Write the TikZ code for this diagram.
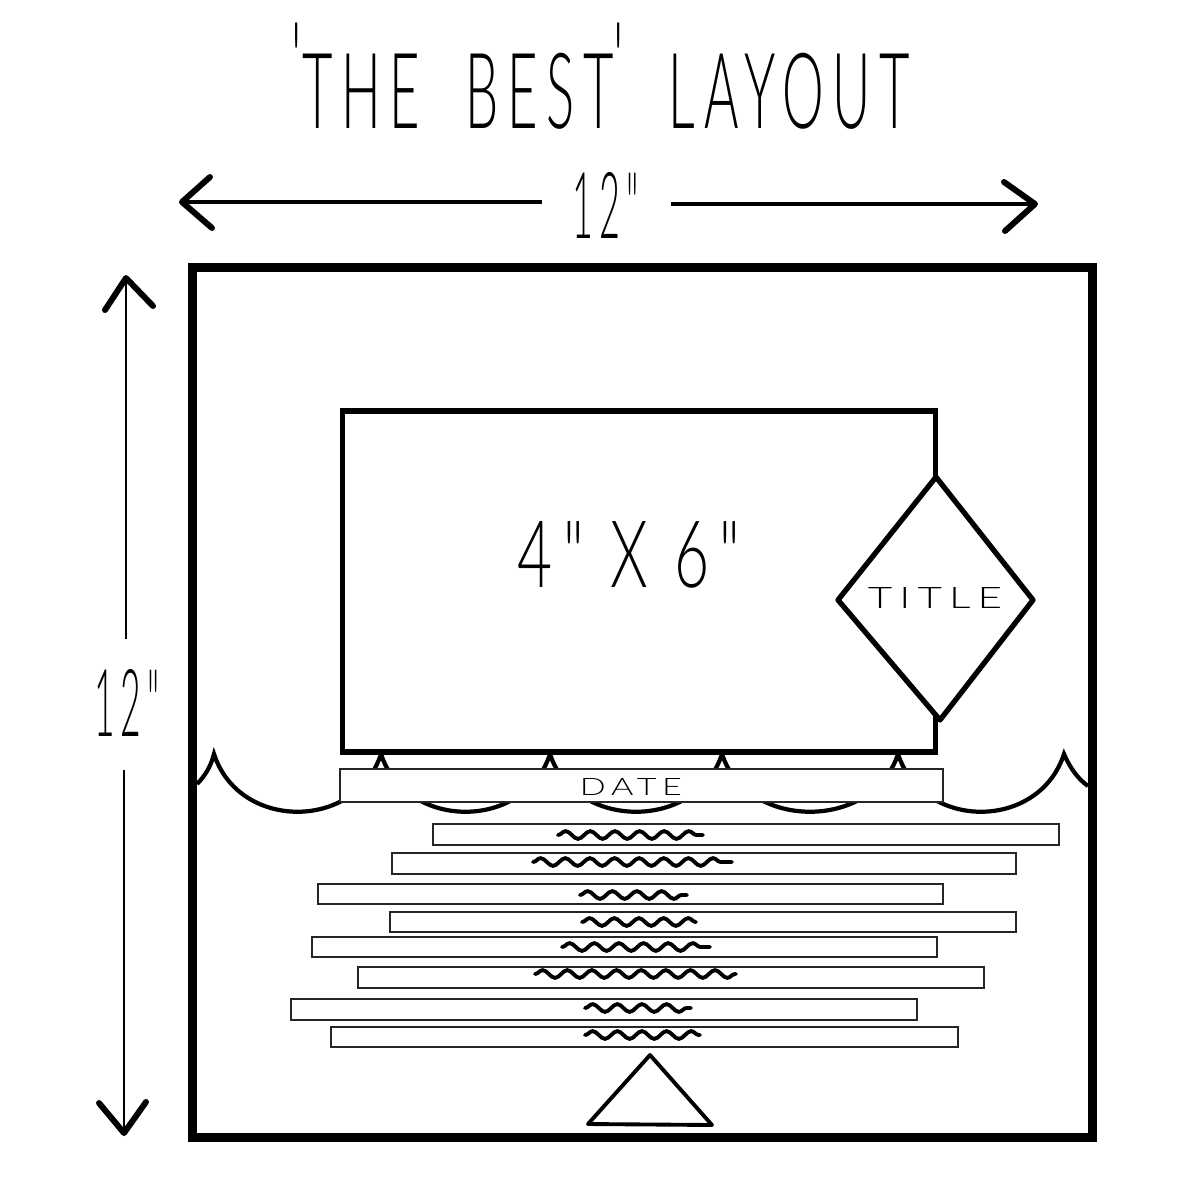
\documentclass[tikz,border=0pt]{standalone}
\usepackage{graphicx}
\usepackage{fontspec}
\usetikzlibrary{calc,decorations.pathmorphing}
\IfFontExistsTF{Lato Light}{\newfontfamily\handfont{Lato Light}[FakeStretch=0.6,LetterSpace=10]}{%
  \IfFontExistsTF{Lato Hairline}{\newfontfamily\handfont{Lato Hairline}[FakeStretch=0.6,LetterSpace=10]}{%
    \newfontfamily\handfont{Lato}[FakeStretch=0.6,LetterSpace=10]}}
\newcommand{\hand}[3]{\resizebox{#1}{#2}{\handfont #3}}
\begin{document}
\begin{tikzpicture}[x=0.01cm,y=-0.01cm,
  txt/.style={inner sep=0pt, outer sep=0pt},
  hline/.style={line width=1.1pt},
  vline/.style={line width=0.85pt},
  chev/.style={line width=1.7pt, line cap=round, line join=round},
  scal/.style={line width=1.2pt},
  strip/.style={draw=black!85, line width=0.6pt, fill=white, inner sep=0pt},
  squig/.style={line width=1.1pt, line cap=round, decorate, decoration={snake, amplitude=1.1pt, segment length=7pt}},
  tri/.style={line width=1.1pt, line join=round}]
\useasboundingbox[fill=white] (0,0) rectangle (1200,1200);

% title
\node[txt] (title) at (601,76) {\hand{6.18cm}{1.06cm}{\raisebox{0.3em}{'}THE\hspace{0.25em} BEST\raisebox{0.3em}{'}\hspace{0.25em} LAYOUT}};

% horizontal dimension
\node[txt] (h12) at (606,205) {\hand{0.66cm}{0.66cm}{12"}};
\coordinate (hl) at (182,202);
\coordinate (hr) at (1035,204);
\draw[hline, shorten >=0.31cm] (hl) -- (hl -| h12.west);
\draw[hline, shorten >=0.32cm] (hr) -- (hr -| h12.east);
\draw[chev] ($(hl)+(28,-25)$) -- (hl) -- ($(hl)+(30,26)$);
\draw[chev] ($(hr)+(-31,-22)$) -- (hr) -- ($(hr)+(-30,27)$);

% vertical dimension
\node[txt] (v12) at (127,703) {\hand{0.65cm}{0.67cm}{12"}};
\coordinate (vt) at (126,278);
\coordinate (vb) at (124,1133);
\draw[vline, shorten >=0.3cm] (vt) -- (vt |- v12.north);
\draw[vline, shorten >=0.33cm] (vb) -- (vb |- v12.south);
\draw[chev] ($(vt)+(-21,32)$) -- (vt) -- ($(vt)+(27,28)$);
\draw[chev] ($(vb)+(-25,-30)$) -- (vb) -- ($(vb)+(22,-31)$);

% page
\node[draw, line width=2.5pt, minimum width=8.99cm, minimum height=8.69cm, inner sep=0pt] (page) at (642.5,702.5) {};

% scallops
\draw[scal] (197,784) .. controls (205,776) and (211,766) .. (214,754)
  .. controls (239,831) and (356,831) .. (381,754)
  .. controls (406,831) and (525,831) .. (550,754)
  .. controls (575,831) and (697,831) .. (722,754)
  .. controls (747,831) and (873,831) .. (898,754)
  .. controls (923,831) and (1039,831) .. (1064,754)
  .. controls (1070,768) and (1078,779) .. (1088,786);

% photo
\node[draw, line width=1.5pt, fill=white, minimum width=5.92cm, minimum height=3.41cm, inner sep=0pt] (photo) at (639,581.5) {};
\node[txt] (ptxt) at (629,555) {\hand{2.22cm}{0.66cm}{4" X 6"}};

% title diamond
\coordinate (dt) at (936,477);
\coordinate (dr) at (1033,600);
\coordinate (db) at (940,720);
\coordinate (dl) at (838,600);
\draw[line width=1.5pt, line join=round, fill=white] (dt) -- (dr) -- (db) -- (dl) -- cycle;
\node[txt] (ttl) at (935,598) {\hand{1.34cm}{0.21cm}{TITLE}};

% strips
\node[strip, minimum width=6.03cm, minimum height=0.33cm] (date) at (641.5,785.5) {};
\node[txt] (dtxt) at (631,786.5) {\hand{1.02cm}{0.17cm}{DATE}};
\node[strip, minimum width=6.26cm, minimum height=0.21cm] (s2) at (746,834.5) {};
\node[strip, minimum width=6.24cm, minimum height=0.21cm] (s3) at (704,863.5) {};
\node[strip, minimum width=6.25cm, minimum height=0.20cm] (s4) at (630.5,894) {};
\node[strip, minimum width=6.26cm, minimum height=0.20cm] (s5) at (703,922) {};
\node[strip, minimum width=6.25cm, minimum height=0.20cm] (s6) at (624.5,947) {};
\node[strip, minimum width=6.26cm, minimum height=0.21cm] (s7) at (671,977.5) {};
\node[strip, minimum width=6.26cm, minimum height=0.21cm] (s8) at (604,1009.5) {};
\node[strip, minimum width=6.27cm, minimum height=0.20cm] (s9) at (644.5,1037) {};

% squiggles
\draw[squig] (558,835) -- (703,835);
\draw[squig] (533,862) -- (732,862);
\draw[squig] (580,895) -- (687,895);
\draw[squig] (582,922) -- (696,922);
\draw[squig] (562,947) -- (710,947);
\draw[squig] (535,974) -- (736,974);
\draw[squig] (585,1008) -- (691,1008);
\draw[squig] (585,1035) -- (700,1035);

% triangle
\coordinate (ta) at (650,1055);
\coordinate (tl) at (588,1124);
\coordinate (tr) at (712,1125);
\draw[tri] (ta) -- (tr) -- (tl) -- cycle;
\end{tikzpicture}
\end{document}
